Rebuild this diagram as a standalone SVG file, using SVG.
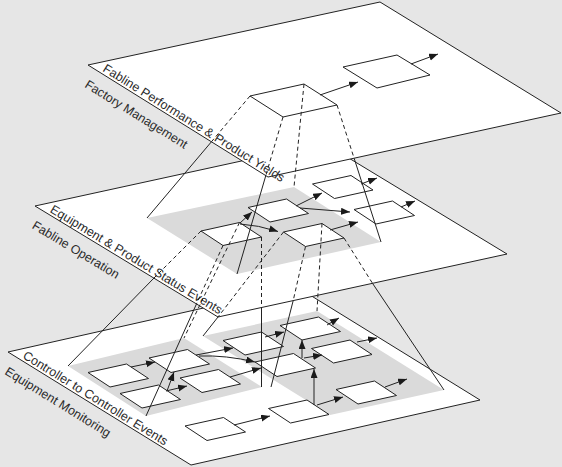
<svg xmlns="http://www.w3.org/2000/svg" width="562" height="467" viewBox="0 0 562 467">
<defs>
<marker id="ah" markerUnits="userSpaceOnUse" markerWidth="10" markerHeight="8" refX="9" refY="3.5" orient="auto"><path d="M0,0 L9,3.5 L0,7 z" fill="#1a1a1a"/></marker>
<path id="bx" d="M0,0 l38.5,-8.5 l22,14.5 l-38.5,8.5 z"/>
</defs>
<style>
.pl{fill:#fff;stroke:#222;stroke-width:1}
.sh{fill:#dadada}
.bx{fill:#fff;stroke:#222;stroke-width:1}
.lb{font-family:"Liberation Sans",Arial,sans-serif;font-size:12.5px;fill:#2a2a2a}
.ar{fill:none;stroke:#222;stroke-width:1;marker-end:url(#ah)}
.sl{fill:none;stroke:#222;stroke-width:1}
.dl{fill:none;stroke:#222;stroke-width:1;stroke-dasharray:4 3}
</style>
<rect width="562" height="467" fill="#e6e6e6"/>

<g id="plane-bottom">
<polygon class="pl" points="8,352 297,287 480,400 191,465"/>
<polygon class="sh" points="203,336 317,311 444,390 330,415"/>
<polygon class="sh" points="68,366 184,338 262,387 146,416"/>
<g transform="translate(8,352) rotate(31.7)">
<text class="lb" x="15" y="-2.5">Controller to Controller Events</text>
<text class="lb" x="8" y="20.5">Equipment Monitoring</text>
</g>
</g>
<g id="box-a"><use href="#bx" class="bx" x="88" y="372.5"/></g>
<g id="box-b"><use href="#bx" class="bx" x="149" y="358"/></g>
<g id="box-c"><use href="#bx" class="bx" x="120" y="393.5"/></g>
<g id="box-d"><use href="#bx" class="bx" x="180" y="378"/></g>
<g id="box-e"><use href="#bx" class="bx" x="185" y="426"/></g>
<g id="box-f"><use href="#bx" class="bx" x="223" y="340.5"/></g>
<g id="box-g"><use href="#bx" class="bx" x="255" y="362"/></g>
<g id="box-h"><use href="#bx" class="bx" x="280" y="325.5"/></g>
<g id="box-i"><use href="#bx" class="bx" x="311.5" y="348.5"/></g>
<g id="box-j"><use href="#bx" class="bx" x="336" y="389.5"/></g>
<g id="box-k"><use href="#bx" class="bx" x="268.5" y="408.5"/></g>

<g id="plane-middle">
<polygon class="pl" points="35,206 324,143 507,254 218,317"/>
<polygon class="sh" points="147,218 294,187 381,242 237,274"/>
<g transform="translate(35,206) rotate(31.2)">
<text class="lb" x="15" y="-2.5">Equipment &amp; Product Status Events</text>
<text class="lb" x="8" y="20.5">Fabline Operation</text>
</g>
</g>
<g id="box-A"><use href="#bx" class="bx" x="248" y="207.5"/></g>
<g id="box-B"><use href="#bx" class="bx" x="201" y="231"/></g>
<g id="box-C"><use href="#bx" class="bx" x="283.5" y="232"/></g>
<g id="box-D"><use href="#bx" class="bx" x="312.5" y="184"/></g>
<g id="box-E"><use href="#bx" class="bx" x="354" y="209.5"/></g>

<g id="plane-top">
<polygon class="pl" points="88,65 380,2 561,113 268,177"/>
<g transform="translate(88,65) rotate(31.9)">
<text class="lb" x="15" y="-2.5">Fabline Performance &amp; Product Yields</text>
<text class="lb" x="8" y="20.5">Factory Management</text>
</g>
</g>
<g id="box-top-1"><polygon class="bx" points="250,96 304,84 337,105 283,117"/></g>
<g id="box-top-2"><polygon class="bx" points="343,67 397,55 430,75 377,88"/></g>

<g id="connectors">
<path class="dl" d="M250,96 L211.4,141.8"/><path class="sl" d="M211.4,141.8 L147,218"/>
<path class="dl" d="M304,84 L294,187"/>
<path class="dl" d="M283,117 L265.8,175.6"/><path class="sl" d="M265.8,175.6 L237,274"/>
<path class="dl" d="M337,105 L354.1,158.2"/><path class="sl" d="M354.1,158.2 L381,242"/>

<path class="dl" d="M201,231 L154,278"/><path class="sl" d="M154,278 L68,366"/>
<path class="dl" d="M239.5,222.5 L184,338"/>
<path class="dl" d="M223,245.5 L196.5,303.9"/><path class="sl" d="M196.5,303.9 L146,416"/>
<path class="dl" d="M261.5,237 L261.5,307.4"/><path class="sl" d="M261.5,307.4 L261.5,387"/>
<path class="dl" d="M283.5,232 L218,317"/><path class="sl" d="M218,317 L203,336"/>
<path class="dl" d="M322,223.5 L317,311"/>
<path class="dl" d="M305.5,246.5 L293.2,300.6"/><path class="sl" d="M293.2,300.6 L271,387"/>
<path class="dl" d="M344,238 L372.5,283.3"/><path class="sl" d="M372.5,283.3 L444,390"/>

<path class="ar" d="M320,95 L358,82"/>
<path class="ar" d="M411,64 L438,54"/>

<path class="ar" d="M240,223 L252,212"/>
<path class="ar" d="M240,224 Q258,225 278,231.5"/>
<path class="ar" d="M296,206 L322,193"/>
<path class="ar" d="M300,208 L350,212"/>
<path class="ar" d="M330,230 L358,222"/>
<path class="ar" d="M361,184 L377,178"/>
<path class="ar" d="M401,207 L415,201"/>

<path class="ar" d="M131,367 L155,362"/>
<path class="ar" d="M196,355 L233,348"/>
<path class="ar" d="M199,356 Q226,355 255,362"/>
<path class="ar" d="M166,391 L187,386"/>
<path class="ar" d="M167,391 L174,372"/>
<path class="ar" d="M230,377 L261,368"/>
<path class="ar" d="M265,337 L284,332"/>
<path class="ar" d="M302,358 L302,340"/>
<path class="ar" d="M304,358 L322,355"/>
<path class="ar" d="M327,325 L339,318"/>
<path class="ar" d="M357,342 L377,338"/>
<path class="ar" d="M314,405 L314,369"/>
<path class="ar" d="M317,405 L343,397"/>
<path class="ar" d="M385,387 L407,379"/>
<path class="ar" d="M234,425 L270,416"/>
</g>
</svg>
